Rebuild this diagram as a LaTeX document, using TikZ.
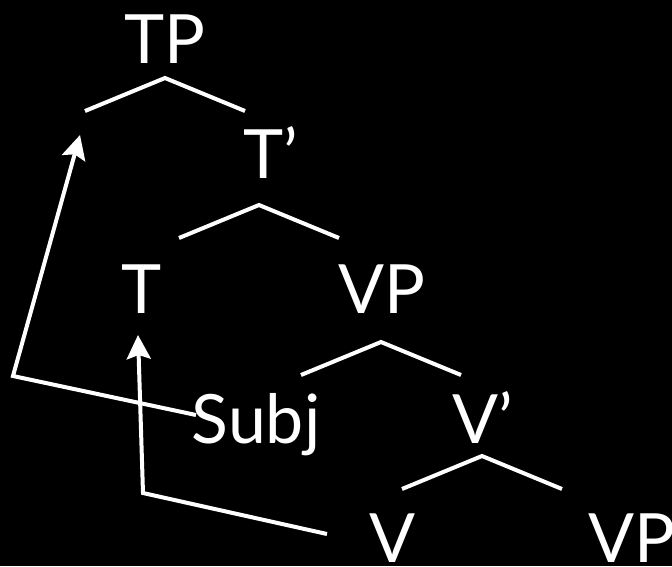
\documentclass[tikz,border=0pt]{standalone}
\usepackage{fontspec}
\setmainfont{Lato}
\usetikzlibrary{arrows.meta}

\begin{document}
\begin{tikzpicture}[x=1pt, y=-1pt,
    label_node/.style={text=white, inner sep=0pt, anchor=base, font=\fontsize{68}{80}\selectfont},
    branch/.style={white, line width=4pt},
    move/.style={white, line width=4pt, -{Stealth[length=24pt,width=24pt,inset=4pt]}}]

    \fill[black] (0,0) rectangle (672,566);
    \useasboundingbox (0,0) rectangle (672,566);

    % tree labels
    \node[label_node] (tp)   at (165,63)  {TP};
    \node[label_node] (tbar) at (271,178) {T’};
    \node[label_node] (t)    at (142,313) {T};
    \node[label_node] (vp)   at (382,313) {VP};
    \node[label_node] (subj) at (256,443) {Subj};
    \node[label_node] (vbar) at (483,443) {V’};
    \node[label_node] (v)    at (393,562) {V};
    \node[label_node] (vp2)  at (632,562) {VP};

    % branches
    \foreach \x/\y in {165/78, 259/205, 381/342, 482/456}
        \draw[branch] (\x-80,\y+33) -- (\x,\y) -- (\x+80,\y+33);

    % movement arrows
    \coordinate (subjstart) at (196,415);
    \coordinate (spec) at (80,135);
    \coordinate (bend1) at (13,376);
    \coordinate (thead) at (138,335);
    \coordinate (bend2) at (143,493);
    \coordinate (vstart) at (327,534);
    \draw[move] (subjstart) -- (bend1) -- (spec);
    \draw[move] (vstart) -- (bend2) -- (thead);
\end{tikzpicture}
\end{document}
